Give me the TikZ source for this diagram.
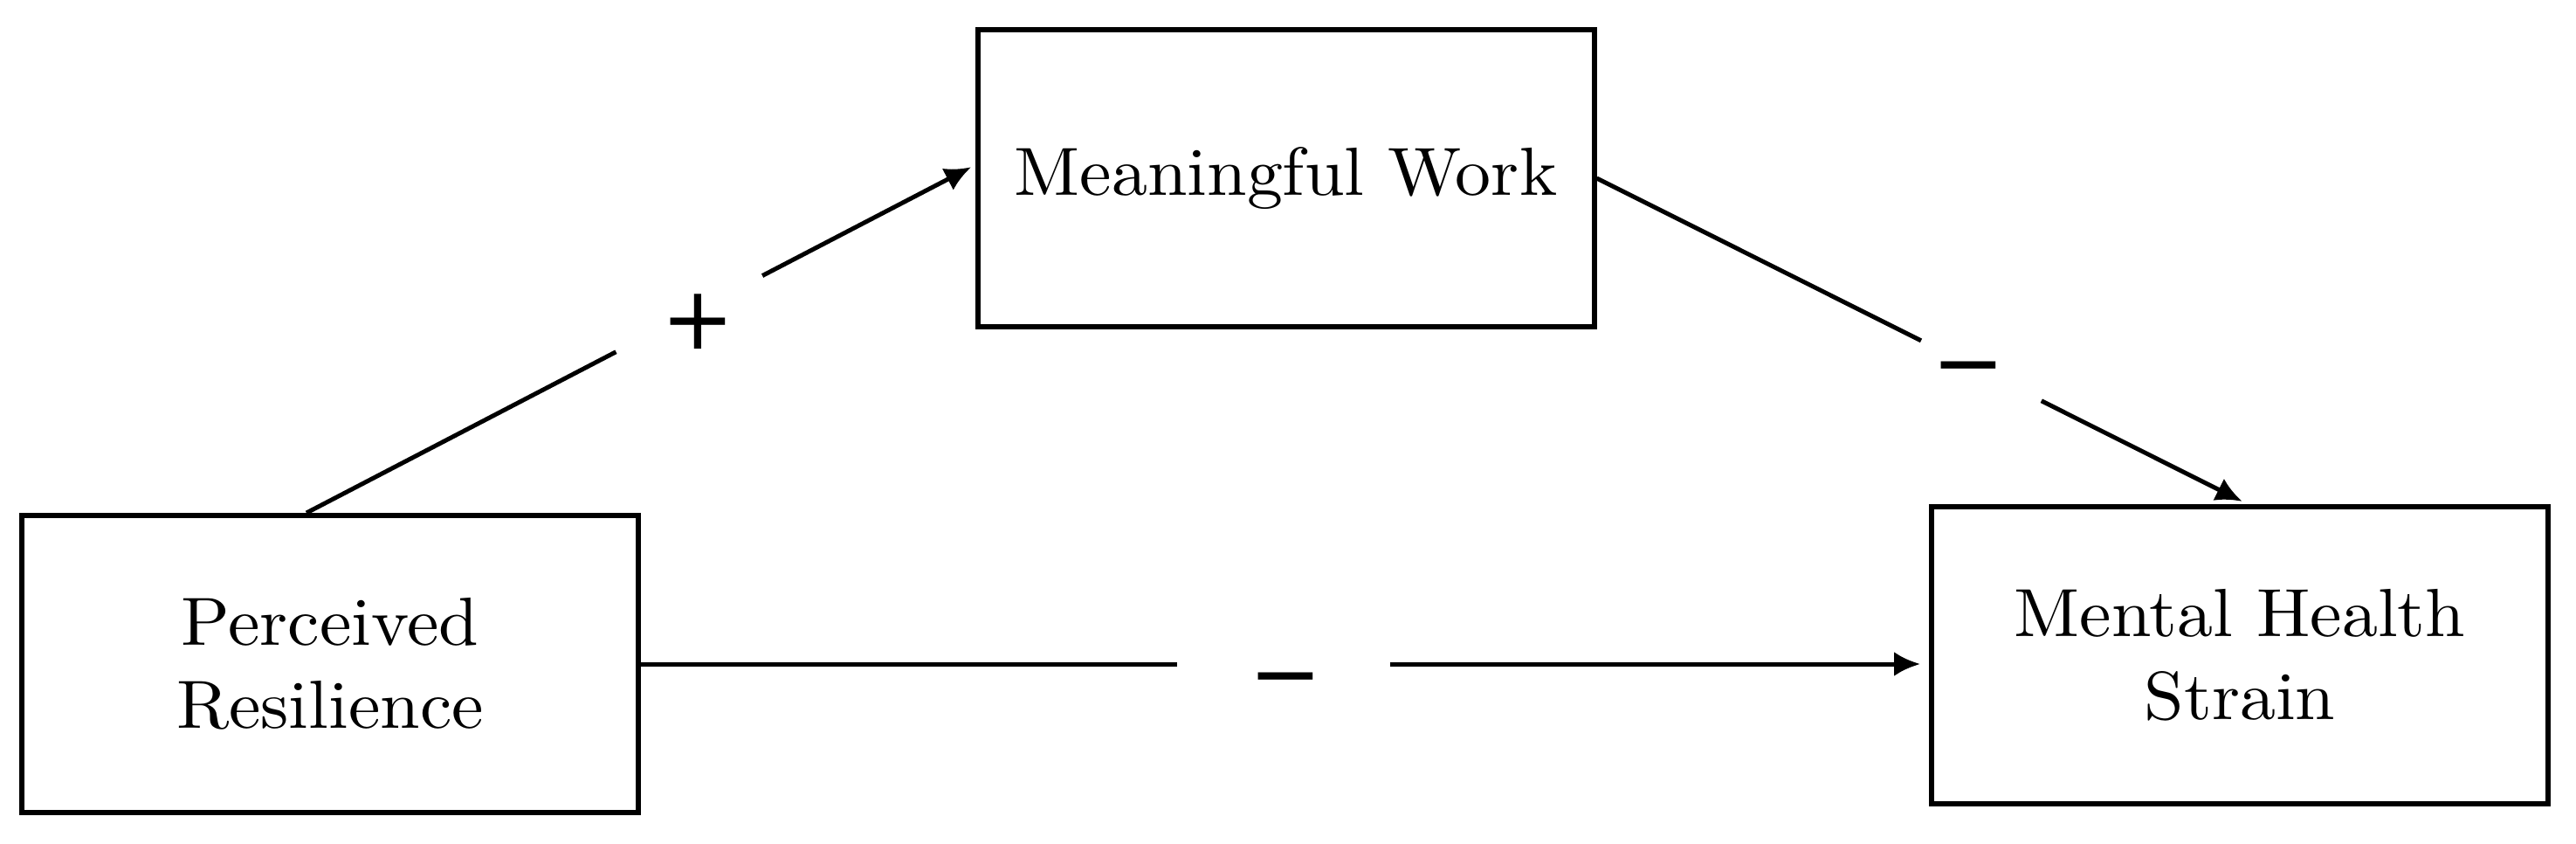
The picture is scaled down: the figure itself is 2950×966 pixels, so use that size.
\documentclass[tikz,border=0pt]{standalone}
\usepackage{fontspec}
\setmainfont{lmroman10-regular}[Extension=.otf,FakeStretch=1.05]
\newfontfamily\signfont{DejaVu Sans}
\usetikzlibrary{arrows.meta,calc}
\begin{document}
\begin{tikzpicture}[x=1pt,y=-1pt,
  box/.style={draw=black,line width=6pt,minimum width=706pt,minimum height=340pt,inner sep=0pt,align=center,font=\fontsize{78}{95}\selectfont},
  conn/.style={line width=5pt},
  arr/.style={conn,-{Latex[length=30pt,width=28pt]}},
  sign/.style={inner sep=0pt,font=\signfont\fontsize{100}{100}\selectfont}]
\useasboundingbox (0,0) rectangle (2950,966);
\node[box] (PR) at (378,760) {Perceived\\Resilience};
\node[box] (MW) at (1472.5,204) {Meaningful Work};
\node[box] (MHS) at (2565,749.5) {Mental Health\\Strain};
% PR -> MW
\coordinate (a1) at ([xshift=-27pt]PR.north);
\coordinate (b1) at ([yshift=15pt]MW.west);
\draw[conn] (a1) -- ($(a1)!0.463!(b1)$);
\draw[arr,shorten >=5pt] ($(a1)!0.682!(b1)$) -- (b1);
\node[sign] (plus) at (799,368) {+};
% MW -> MHS
\coordinate (a2) at (MW.east);
\coordinate (b2) at ([xshift=8pt]MHS.north);
\draw[conn] (a2) -- ($(a2)!0.499!(b2)$);
\draw[arr,shorten >=6pt] ($(a2)!0.684!(b2)$) -- (b2);
\node[sign] (minusA) at (2254,418) {\vphantom{+}−};
% PR -> MHS
\coordinate (a3) at (PR.east);
\coordinate (b3) at (MHS.west |- PR.east);
\draw[conn] (a3) -- ($(a3)!0.416!(b3)$);
\draw[arr,shorten >=10pt] ($(a3)!0.582!(b3)$) -- (b3);
\node[sign] (minusB) at (1472,774) {\vphantom{+}−};
\end{tikzpicture}
\end{document}
